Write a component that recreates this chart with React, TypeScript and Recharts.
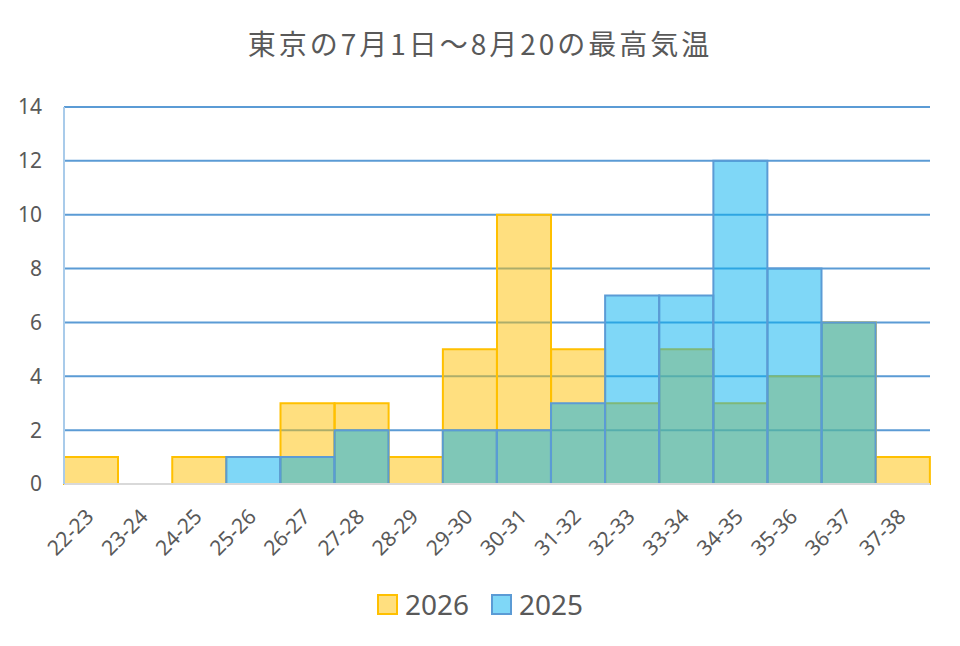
import React from 'react';
import { BarChart, Bar, XAxis, YAxis, CartesianGrid } from 'recharts';

const categories = ['22-23', '23-24', '24-25', '25-26', '26-27', '27-28', '28-29', '29-30', '30-31', '31-32', '32-33', '33-34', '34-35', '35-36', '36-37', '37-38'];
const values2026 = [1, 0, 1, 0, 3, 3, 1, 5, 10, 5, 3, 5, 3, 4, 6, 1];
const values2025 = [0, 0, 0, 1, 1, 2, 0, 2, 2, 3, 7, 7, 12, 8, 6, 0];
const yTicks = [0, 2, 4, 6, 8, 10, 12, 14];
const title = '東京の7月1日～8月20の最高気温';

const data = categories.map((c, i) => ({ range: c, y2026: values2026[i], y2025: values2025[i] }));

const TEXT = '#595959';
const FONT = '"Noto Sans", "Noto Sans CJK JP", sans-serif';

const XTick = (props: any) => {
  const { x, y, payload } = props;
  const ax = x + 4;
  const ay = y + 34;
  return (
    <text x={ax} y={ay} transform={`rotate(-45 ${ax} ${ay})`} textAnchor="end" fill={TEXT} fontSize={21} fontFamily={FONT}>
      {payload.value}
    </text>
  );
};

const LegendItem = ({ color, fill, label }: { color: string; fill: string; label: string }) => (
  <div style={{ display: 'flex', alignItems: 'center', marginRight: 22 }}>
    <div style={{ width: 17, height: 17, border: `2px solid ${color}`, background: fill, marginRight: 7 }} />
    <span style={{ fontSize: 28, color: TEXT, fontFamily: FONT, lineHeight: '30px' }}>{label}</span>
  </div>
);

export default function App() {
  return (
    <div style={{ position: 'absolute', left: 0, top: 0, width: 960, height: 646, background: '#fff', overflow: 'hidden' }}>
      <div style={{ position: 'absolute', left: 0, top: 26, width: 960, textAlign: 'center', fontSize: 28, lineHeight: '34px', color: TEXT, fontFamily: '"Noto Sans CJK JP", sans-serif', letterSpacing: 3 }}>
        {title}
      </div>
      <div style={{ position: 'absolute', left: 0, top: 0 }}>
        <BarChart
          width={960}
          height={646}
          data={data}
          margin={{ top: 107, right: 30, left: 24, bottom: 0 }}
          barCategoryGap={0}
          barGap="-100%"
        >
          <CartesianGrid vertical={false} stroke="#5B9BD5" strokeWidth={2} />
          <XAxis
            dataKey="range"
            height={162}
            interval={0}
            tickLine={false}
            tickSize={0}
            tickMargin={0}
            axisLine={{ stroke: '#D9D9D9', strokeWidth: 2 }}
            tick={<XTick />}
          />
          <YAxis
            width={40}
            domain={[0, 14]}
            ticks={yTicks}
            tickLine={false}
            tickSize={0}
            tickMargin={22}
            axisLine={{ stroke: '#A9CBEA', strokeWidth: 2 }}
            tick={{ fill: TEXT, fontSize: 21, fontFamily: FONT }}
          />
          <YAxis
            yAxisId="right"
            orientation="right"
            width={0}
            domain={[0, 14]}
            ticks={yTicks}
            tick={false}
            tickLine={false}
            axisLine={{ stroke: '#A9CBEA', strokeWidth: 2 }}
          />
          <Bar dataKey="y2026" fill="#FFC000" fillOpacity={0.5} stroke="#FFC000" strokeWidth={2} isAnimationActive={false} />
          <Bar dataKey="y2025" fill="#00B0F0" fillOpacity={0.5} stroke="#5B9BD5" strokeWidth={2} isAnimationActive={false} />
        </BarChart>
      </div>
      <div style={{ position: 'absolute', left: 0, top: 589, width: 960, display: 'flex', justifyContent: 'center', paddingLeft: 22, boxSizing: 'border-box' }}>
        <LegendItem color="#FFC000" fill="rgba(255,192,0,0.5)" label="2026" />
        <LegendItem color="#5B9BD5" fill="rgba(0,176,240,0.5)" label="2025" />
      </div>
    </div>
  );
}
